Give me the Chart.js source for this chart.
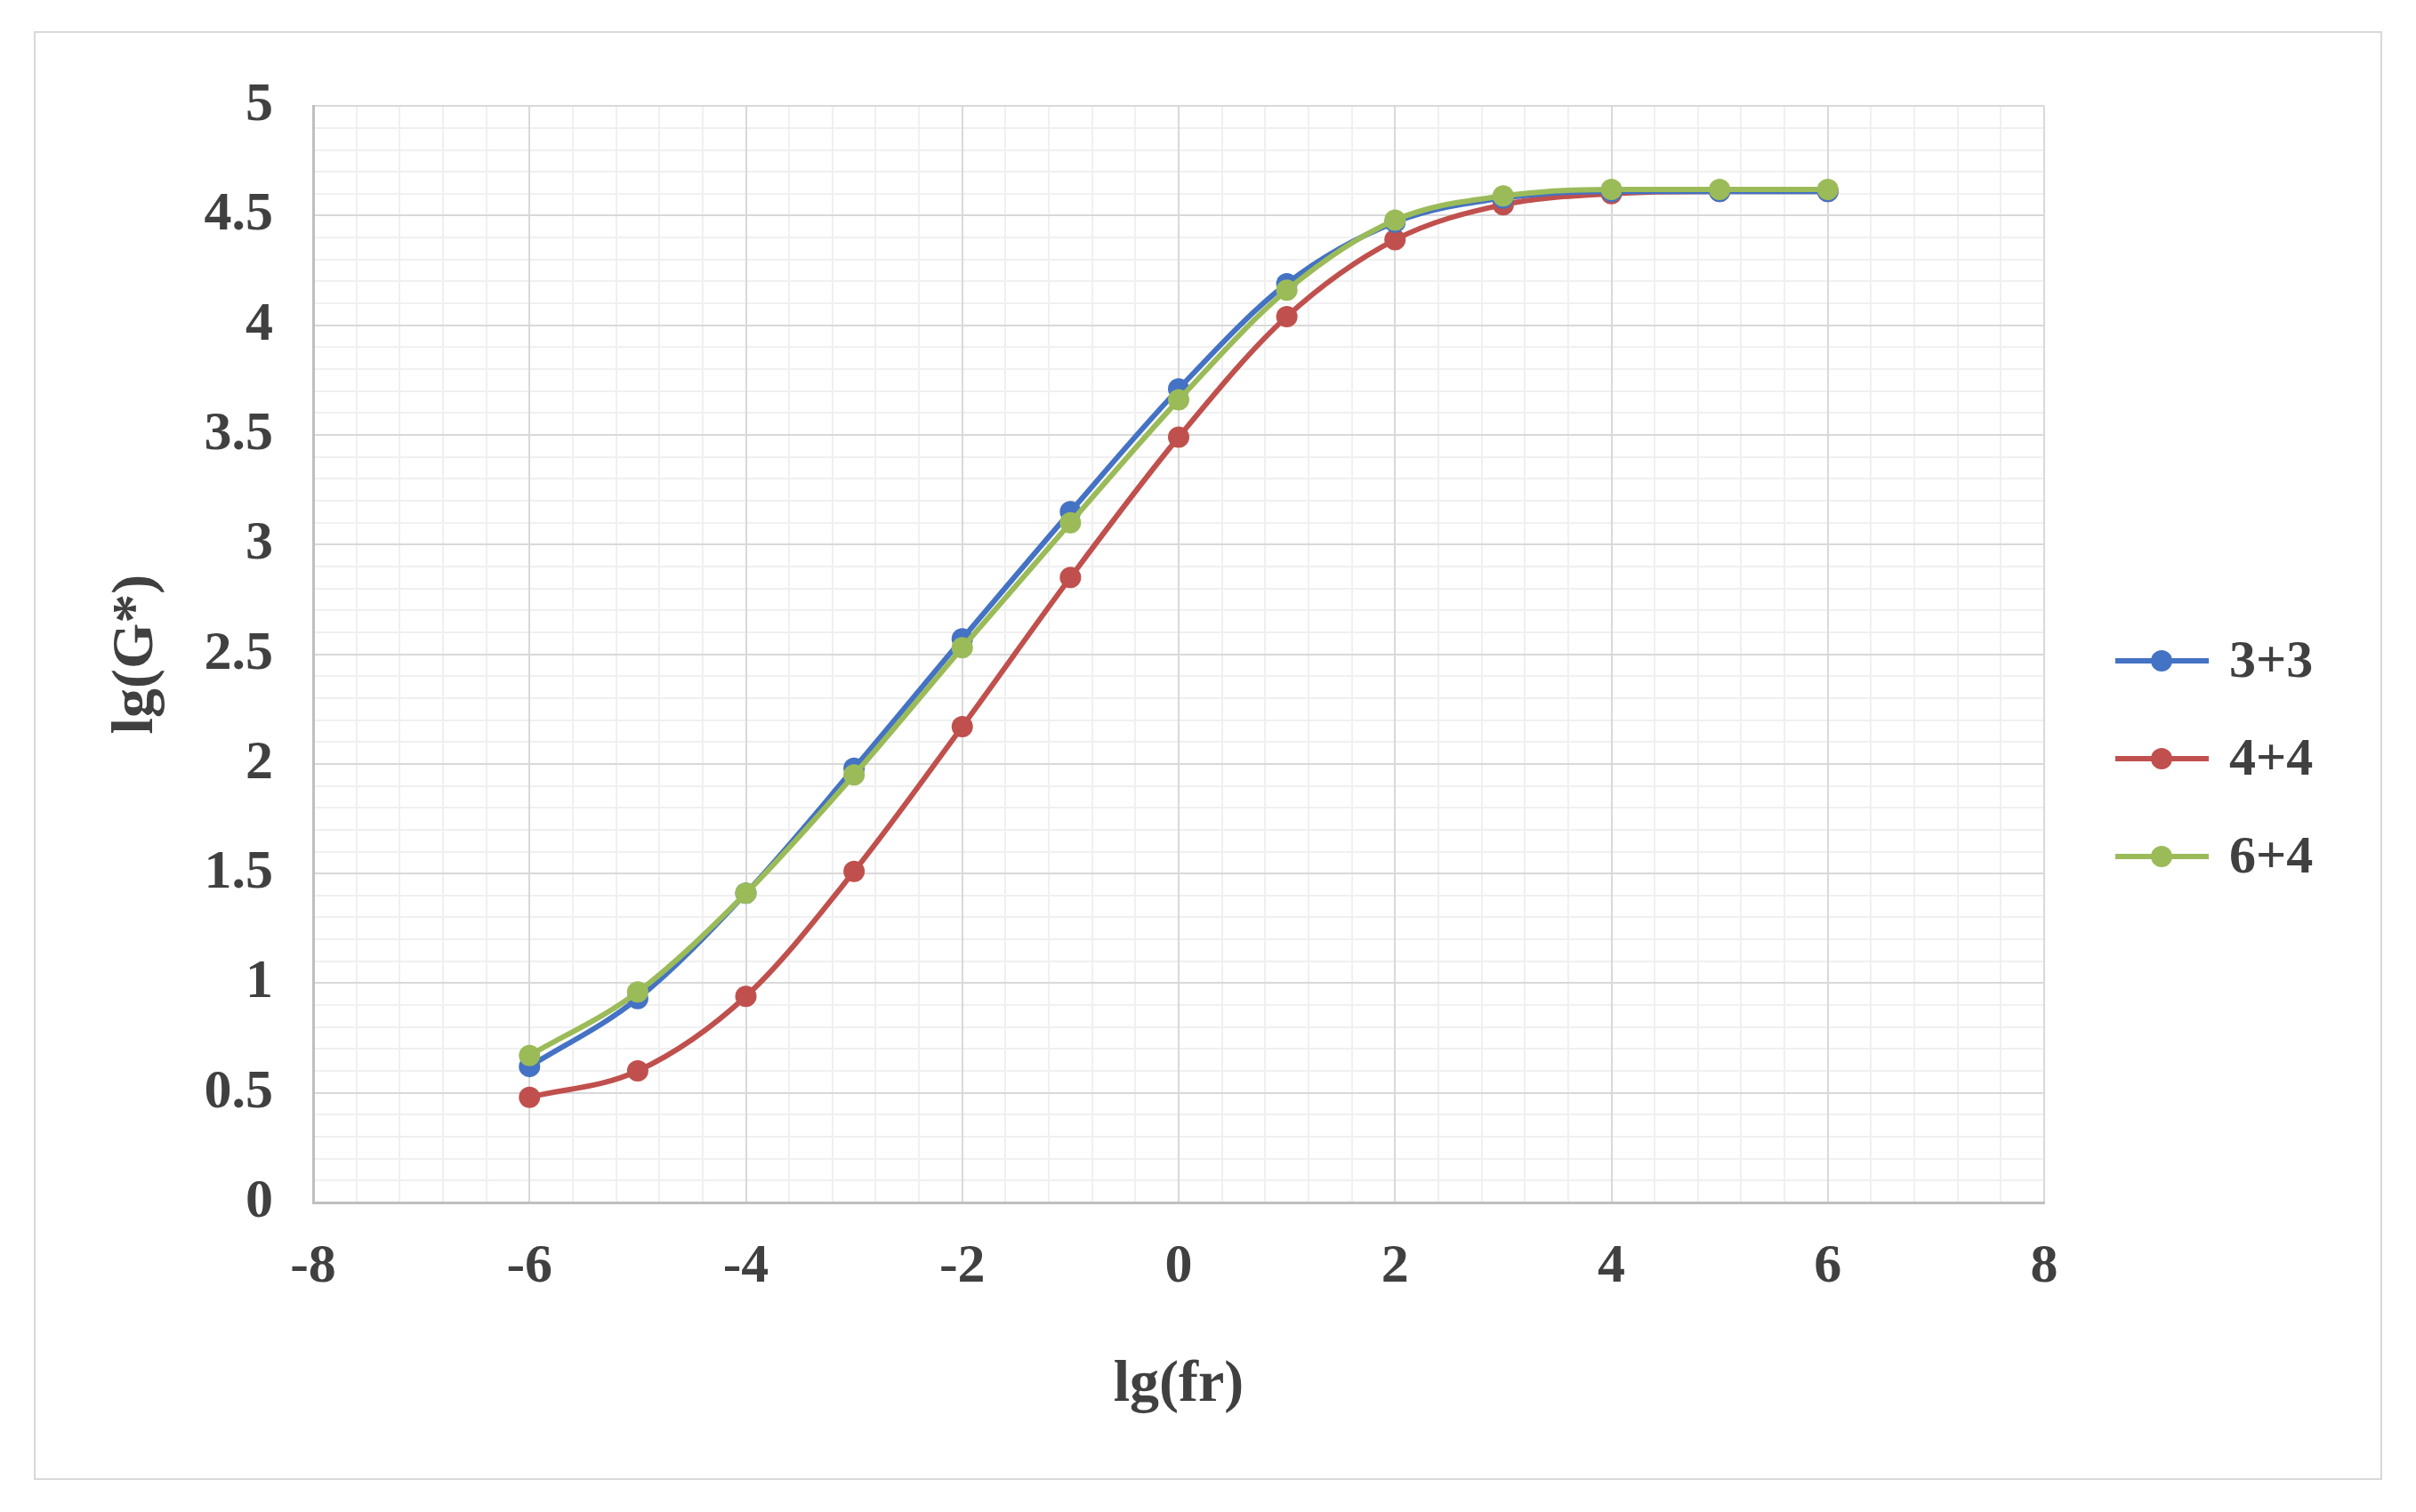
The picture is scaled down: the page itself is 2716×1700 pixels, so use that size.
<!DOCTYPE html>
<html>
<head>
<meta charset="utf-8">
<script src="https://cdn.jsdelivr.net/npm/chart.js@4"></script>
<style>
  body { margin: 0; background: #fff; }
  #wrap { position: absolute; left: 38px; top: 35px; width: 2636px; height: 1625px; border: 2px solid #d9d9d9; }
</style>
</head>
<body>
<div id="wrap"><canvas id="chart"></canvas></div>
<script>
const xValues = [-6, -5, -4, -3, -2, -1, 0, 1, 2, 3, 4, 5, 6];
const series33 = [0.62, 0.93, 1.41, 1.98, 2.57, 3.15, 3.71, 4.19, 4.47, 4.58, 4.61, 4.61, 4.61];
const series44 = [0.48, 0.60, 0.94, 1.51, 2.17, 2.85, 3.49, 4.04, 4.39, 4.55, 4.60, 4.61, 4.61];
const series64 = [0.67, 0.96, 1.41, 1.95, 2.53, 3.10, 3.66, 4.16, 4.48, 4.59, 4.62, 4.62, 4.62];
const seriesNames = ["3+3", "4+4", "6+4"];
const seriesColors = ["#4472c4", "#c0504d", "#9bbb59"];

const font = "'Liberation Serif', 'DejaVu Serif', serif";

function makeSet(name, values, color, order) {
    return {
        label: name,
        data: xValues.map((x, i) => ({ x: x, y: values[i] })),
        borderColor: color,
        backgroundColor: color,
        borderWidth: 6,
        pointRadius: 12,
        pointBorderWidth: 0,
        cubicInterpolationMode: "monotone",
        order: order,
        xAxisID: "x",
        yAxisID: "y"
    };
}

// legend drawn Excel style: line + dot + label
const legendPlugin = {
    id: "excelLegend",
    afterDraw(chart) {
        const ctx = chart.ctx;
        const x0 = chart.chartArea.right + 80;
        const rows = [706, 816, 926];
        ctx.save();
        seriesNames.forEach((name, i) => {
            const y = rows[i];
            ctx.strokeStyle = seriesColors[i];
            ctx.lineWidth = 6;
            ctx.beginPath();
            ctx.moveTo(x0, y);
            ctx.lineTo(x0 + 105, y);
            ctx.stroke();
            ctx.fillStyle = seriesColors[i];
            ctx.beginPath();
            ctx.arc(x0 + 52, y, 12, 0, Math.PI * 2);
            ctx.fill();
            ctx.fillStyle = "#404040";
            ctx.font = "bold 60px " + font;
            ctx.textBaseline = "middle";
            ctx.fillText(name, x0 + 128, y + 2);
        });
        ctx.restore();
    }
};

const ctx = document.getElementById("chart").getContext("2d");
new Chart(ctx, {
    type: "line",
    data: {
        datasets: [
            makeSet(seriesNames[0], series33, seriesColors[0], 2),
            makeSet(seriesNames[1], series44, seriesColors[1], 3),
            makeSet(seriesNames[2], series64, seriesColors[2], 1)
        ]
    },
    plugins: [legendPlugin],
    options: {
        responsive: true,
        maintainAspectRatio: false,
        animation: false,
        layout: { padding: { left: 70, right: 378, top: 69, bottom: 60 } },
        plugins: { legend: { display: false }, tooltip: { enabled: false } },
        scales: {
            xm: {
                type: "linear", position: "bottom", min: -8, max: 8,
                ticks: { display: false, stepSize: 0.4 },
                grid: { color: "#f0f0f0", lineWidth: 2, drawTicks: false },
                border: { display: false },
                afterFit: (s) => { s.height = 0; }
            },
            ym: {
                type: "linear", position: "left", min: 0, max: 5,
                ticks: { display: false, stepSize: 0.1 },
                grid: { color: "#f0f0f0", lineWidth: 2, drawTicks: false },
                border: { display: false },
                afterFit: (s) => { s.width = 0; }
            },
            x: {
                type: "linear", min: -8, max: 8,
                ticks: { stepSize: 2, color: "#404040", font: { family: font, size: 62, weight: "bold" }, padding: 36 },
                grid: { color: "#d9d9d9", lineWidth: 2, drawTicks: false },
                border: { color: "#bfbfbf", width: 3 },
                title: { display: true, text: "lg(fr)", color: "#404040", font: { family: font, size: 66, weight: "bold" } },
                afterFit: (s) => { s.height = 250; }
            },
            y: {
                type: "linear", min: 0, max: 5,
                ticks: {
                    stepSize: 0.5, color: "#404040", padding: 45,
                    font: { family: font, size: 62, weight: "bold" },
                    callback: (v) => String(Math.round(v * 10) / 10)
                },
                grid: { color: "#d9d9d9", lineWidth: 2, drawTicks: false },
                border: { color: "#bfbfbf", width: 3 },
                title: { display: true, text: "lg(G*)", color: "#404040", font: { family: font, size: 66, weight: "bold" } },
                afterFit: (s) => { s.width = 242; }
            }
        }
    }
});
</script>
</body>
</html>
